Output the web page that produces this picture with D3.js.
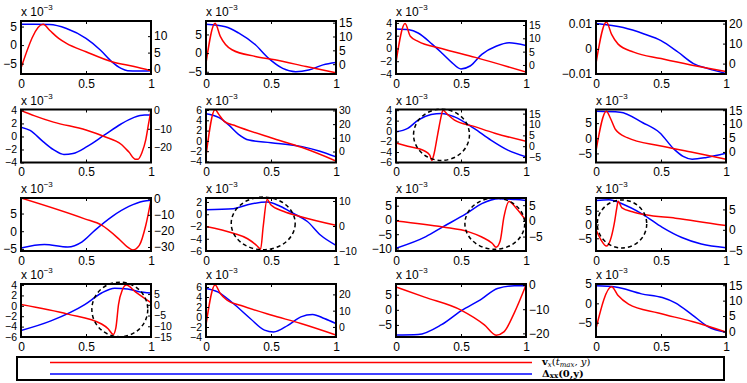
<!DOCTYPE html>
<html>
<head>
<meta charset="utf-8">
<script src="https://cdn.jsdelivr.net/npm/d3@7"></script>
<style>
body { margin: 0; background: #fff; }
svg { display: block; }
text { font-family: "Liberation Sans", Arial, sans-serif; }
</style>
</head>
<body>
<div id="plot"></div>
<script>
// panels are read row by row, 4 per row
// left axis = red curve (x 10^-3, except panel 4), right axis = blue curve
var leftDomains = [
    [-7.8, 6.5], [-5.6, 8.6], [-4, 4.3], [-0.0101, 0.0112],
    [-4, 4.14], [-4.2, 6.1], [-6, 4.13], [-8.0, 9.5],
    [-5.6, 9.4], [-6, 2.65], [-10.9, 7.7], [-9.6, 9.6],
    [-6, 4.2], [-4, 6.6], [-9.0, 8.55], [-8.7, 5.0]
]
var rightDomains = [
    [-1.5, 14.6], [-3.55, 15.6], [-3.4, 16.5], [-5.2, 21.3],
    [-28.4, 0.5], [-8, 30.7], [-7.5, 16.9], [-3.8, 15.25],
    [-32.5, 0.44], [-10, 11.2], [-9.6, 7.3], [-5.2, 7.8],
    [-15, 9.7], [-6.2, 26.4], [-21.5, 0.43], [-1.8, 15.4]
]
var leftTicks = [
    [-5, 0, 5], [-5, 0, 5], [-4, -2, 0, 2, 4], [-0.01, 0, 0.01],
    [-4, -2, 0, 2, 4], [-4, -2, 0, 2, 4, 6], [-6, -4, -2, 0, 2, 4], [-5, 0, 5],
    [-5, 0, 5], [-6, -4, -2, 0, 2], [-10, -5, 0, 5], [-5, 0, 5],
    [-6, -4, -2, 0, 2, 4], [-4, -2, 0, 2, 4, 6], [-5, 0, 5], [-5, 0, 5]
]
var rightTicks = [
    [0, 5, 10], [0, 5, 10, 15], [0, 5, 10, 15], [0, 10, 20],
    [-20, -10, 0], [0, 10, 20, 30], [-5, 0, 5, 10, 15], [0, 5, 10, 15],
    [-30, -20, -10, 0], [-10, 0, 10], [-5, 0, 5], [-5, 0, 5],
    [-15, -10, -5, 0, 5], [0, 10, 20], [-20, -10, 0], [0, 5, 10, 15]
]
var xTicks = [0, 0.5, 1]
var scaleLabel = [true, true, true, false, true, true, true, true,
                  true, true, true, true, true, true, true, true]

// v_x(t_max, y)
var redSeries = [
    [[0,-6.2],[0.17,5.6],[0.22,4.0],[0.29,1.8],[0.35,0.45],[0.5,-1.8],[0.7,-4.5],[0.87,-5.8],[1,-6.9]],
    [[0,-2.7],[0.07,8.0],[0.11,4.5],[0.15,2.3],[0.2,0.9],[0.38,-0.9],[0.53,-1.8],[0.77,-3.6],[1,-5.3]],
    [[0,-2.2],[0.07,3.9],[0.11,1.9],[0.17,1.1],[0.35,0],[0.61,-1.4],[1,-3.7]],
    [[0,-0.0058],[0.08,0.0108],[0.12,0.0058],[0.17,0.0019],[0.29,-0.0013],[0.5,-0.0039],[0.73,-0.0065],[1,-0.0091]],
    [[0,4.0],[0.1,3.2],[0.25,2.2],[0.5,1.0],[0.64,0],[0.77,-1.2],[0.83,-2.4],[0.88,-3.5],[0.9,-3.5],[0.93,-2.5],[0.96,-0.5],[0.98,1.8],[1,4.0]],
    [[0,-2.9],[0.07,6.1],[0.1,5.1],[0.14,3.8],[0.23,2.9],[0.5,0.6],[0.74,-1.3],[1,-3.9]],
    [[0,-2.25],[0.09,-2.9],[0.22,-3.8],[0.26,-4.6],[0.275,-5.6],[0.29,-4.6],[0.32,-0.7],[0.35,3.1],[0.36,4.0],[0.4,3.1],[0.45,2.1],[0.6,0.9],[0.76,-0.4],[1,-1.95]],
    [[0,-4.2],[0.08,8.9],[0.11,6.7],[0.15,2.9],[0.24,0.2],[0.49,-2.5],[0.75,-4.7],[1,-6.9]],
    [[0,9.4],[0.49,3.5],[0.62,1.7],[0.75,-2.1],[0.82,-4.5],[0.86,-5.3],[0.91,-4],[0.96,1.7],[1,8.9]],
    [[0,-2.0],[0.21,-3.1],[0.32,-4],[0.39,-5.1],[0.42,-5.7],[0.44,-2],[0.47,2.4],[0.5,1.5],[0.6,0.45],[0.73,-0.4],[1,-1.8]],
    [[0,-0.4],[0.36,-2.5],[0.56,-4.2],[0.66,-6],[0.74,-8.2],[0.77,-9.6],[0.8,-7.6],[0.83,1],[0.87,6.5],[0.92,4.4],[1,-0.2]],
    [[0,-1.9],[0.04,-5.7],[0.08,-7.8],[0.11,-5.7],[0.14,0.2],[0.16,6],[0.17,8.4],[0.2,6],[0.28,4.6],[0.38,3.5],[0.61,2.3],[1,-0.4]],
    [[0,0.25],[0.36,-1.6],[0.62,-3.5],[0.67,-4.4],[0.71,-5.5],[0.73,-4.2],[0.75,0.25],[0.78,3.1],[0.81,4.0],[0.88,2.7],[1,0.6]],
    [[0,-1.6],[0.07,6.4],[0.11,4.7],[0.16,3.4],[0.27,2.3],[0.5,0.4],[0.73,-1.3],[1,-3.6]],
    [[0,7.6],[0.22,4.2],[0.5,-0.1],[0.68,-5],[0.77,-8.4],[0.83,-7.3],[0.91,-1],[1,8.2]],
    [[0,-6.5],[0.12,4.3],[0.17,2],[0.25,-0.2],[0.48,-2.5],[0.74,-4.7],[1,-7.4]]
]

// Delta_xx(0, y)
var blueSeries = [
    [[0,13.6],[0.1,13.6],[0.22,13.5],[0.35,12.3],[0.5,9.3],[0.61,5.8],[0.7,2.2],[0.77,0.2],[0.82,-0.5],[0.9,-0.6],[1,-0.5]],
    [[0,14.4],[0.15,13.5],[0.25,11.3],[0.38,7.0],[0.48,2.2],[0.59,-1.5],[0.69,-2.7],[0.79,-2.1],[0.9,-0.25],[1,0.6]],
    [[0,13.5],[0.1,13.2],[0.17,12],[0.28,7.7],[0.35,4.6],[0.43,0.9],[0.5,-1.5],[0.57,-0.4],[0.66,4],[0.77,7],[0.87,8.3],[1,7.3]],
    [[0,20],[0.21,18],[0.37,14.8],[0.5,11.5],[0.63,5.8],[0.75,0],[0.86,-2.5],[1,-4.9]],
    [[0,-9.1],[0.07,-10.9],[0.17,-17],[0.25,-21.4],[0.33,-24],[0.4,-23.5],[0.51,-19.6],[0.64,-13.5],[0.77,-7.4],[0.87,-3.8],[0.95,-2.5],[1,-2.5]],
    [[0,27.6],[0.1,24.7],[0.17,19.8],[0.25,12.6],[0.33,8.4],[0.5,6.5],[0.74,3.6],[0.87,0.4],[1,-3.9]],
    [[0,6.6],[0.09,8.2],[0.17,12],[0.27,14.6],[0.35,15.1],[0.45,13.5],[0.6,8.2],[0.73,2.8],[0.86,-1.8],[1,-4.9]],
    [[0,14.6],[0.185,14.3],[0.36,10.5],[0.49,6.9],[0.6,1.0],[0.67,-1.6],[0.74,-2.6],[0.85,-2.0],[1,-0.5]],
    [[0,-30.6],[0.18,-28.5],[0.36,-30],[0.47,-26.8],[0.57,-19.5],[0.7,-11.1],[0.83,-4.8],[0.94,-1.6],[1,-1]],
    [[0,6.5],[0.21,6.9],[0.32,8.5],[0.47,9.6],[0.57,7.9],[0.67,5.1],[0.78,1.8],[0.88,-3.6],[1,-7.7]],
    [[0,-8.7],[0.23,-5],[0.36,-1.9],[0.54,2.3],[0.66,5.5],[0.79,7.1],[0.92,6.8],[1,6.5]],
    [[0,7.2],[0.1,7.4],[0.2,6.4],[0.36,3.8],[0.51,0.6],[0.66,-1.9],[0.81,-3.5],[1,-4.4]],
    [[0,-12],[0.23,-7.5],[0.49,0.1],[0.62,5.5],[0.72,7.7],[0.82,7.4],[0.9,6.2],[1,5.5]],
    [[0,23.7],[0.09,21.6],[0.21,14.4],[0.34,5.2],[0.45,-2],[0.52,-3.1],[0.63,1],[0.73,6.2],[0.82,7.7],[0.91,5.2],[1,2.1]],
    [[0,-20.7],[0.17,-20.5],[0.35,-16.4],[0.5,-10.7],[0.66,-5.7],[0.78,-1.4],[0.91,-0.3],[1,-0.3]],
    [[0,14.8],[0.15,14.4],[0.35,12.2],[0.51,11],[0.61,9.3],[0.74,5.4],[0.86,1.6],[1,-0.3]]
]

// dashed circles: panel, centre x, centre (left units), radius x, radius (left units)
var circles = [
    [6, 0.35, -0.7, 0.215, 4.9],
    [9, 0.44, -1.5, 0.246, 4.3],
    [10, 0.76, -1.3, 0.23, 9.0],
    [11, 0.2, 0.2, 0.19, 8.7],
    [12, 0.76, -0.7, 0.215, 5.25]
]

var W = 747, H = 383
var colX = [21, 206, 396, 596]
var rowY = [21, 109.5, 198, 284]
var pw = 130, ph = 53

var svg = d3.select("#plot").append("svg")
    .attr("width", W)
    .attr("height", H)

function fmt(d) {
    return (d < 0 ? "\u2212" : "") + Math.abs(d)
}

function styleAxis(size) {
    return function (a) {
        a.select(".domain").remove()
        a.selectAll("line").attr("stroke", "#000").attr("stroke-width", 1)
        a.selectAll("text").style("font-size", size).attr("fill", "#000")
    }
}

redSeries.forEach(function (red, i) {
    var px = colX[i % 4], py = rowY[Math.floor(i / 4)]
    var g = svg.append("g").attr("transform", "translate(" + px + "," + py + ")")

    var x = d3.scaleLinear().domain([0, 1]).range([0, pw])
    var yl = d3.scaleLinear().domain(leftDomains[i]).range([ph, 0])
    var yr = d3.scaleLinear().domain(rightDomains[i]).range([ph, 0])

    g.append("clipPath").attr("id", "clip" + i)
        .append("rect").attr("width", pw).attr("height", ph)

    var plot = g.append("g").attr("clip-path", "url(#clip" + i + ")")

    plot.append("path")
        .datum(blueSeries[i])
        .attr("fill", "none")
        .attr("stroke", "#0000ff")
        .attr("stroke-width", 1.5)
        .attr("d", d3.line().curve(d3.curveMonotoneX)
            .x(function (d) { return x(d[0]) })
            .y(function (d) { return yr(d[1]) }))

    plot.append("path")
        .datum(red)
        .attr("fill", "none")
        .attr("stroke", "#ff0000")
        .attr("stroke-width", 1.5)
        .attr("d", d3.line().curve(d3.curveMonotoneX)
            .x(function (d) { return x(d[0]) })
            .y(function (d) { return yl(d[1]) }))

    circles.filter(function (c) { return c[0] == i }).forEach(function (c) {
        g.append("ellipse")
            .attr("cx", x(c[1]))
            .attr("cy", yl(c[2]))
            .attr("rx", x(c[3]) - x(0))
            .attr("ry", yl(0) - yl(c[4]))
            .attr("fill", "none")
            .attr("stroke", "#000")
            .attr("stroke-width", 1.5)
            .attr("stroke-dasharray", "4,3")
    })

    // axes, ticks pointing inward
    var crowded = Math.max(leftTicks[i].length, rightTicks[i].length) > 4
    var ySize = crowded ? "10.5px" : "12px"
    g.append("g")
        .attr("transform", "translate(0," + ph + ")")
        .call(d3.axisBottom(x).tickValues(xTicks).tickSizeInner(-3).tickSizeOuter(0).tickPadding(5).tickFormat(fmt))
        .call(styleAxis("12px"))
    g.append("g")
        .call(d3.axisTop(x).tickValues(xTicks).tickSizeInner(-3).tickSizeOuter(0).tickFormat(""))
        .call(styleAxis("12px"))
    g.append("g")
        .call(d3.axisLeft(yl).tickValues(leftTicks[i]).tickSizeInner(-3).tickSizeOuter(0).tickPadding(4)
            .tickFormat(function (d) { return fmt(+d.toFixed(4)) }))
        .call(styleAxis(ySize))
    g.append("g")
        .attr("transform", "translate(" + pw + ",0)")
        .call(d3.axisRight(yr).tickValues(rightTicks[i]).tickSizeInner(-3).tickSizeOuter(0).tickPadding(3).tickFormat(fmt))
        .call(styleAxis(ySize))

    g.append("rect")
        .attr("width", pw)
        .attr("height", ph)
        .attr("fill", "none")
        .attr("stroke", "#000")
        .attr("stroke-width", 2)

    if (scaleLabel[i]) {
        var t = g.append("text")
            .attr("x", 0)
            .attr("y", -5)
            .style("font-size", "12px")
        t.append("tspan").text("x 10")
        t.append("tspan").attr("dy", -6).style("font-size", "8px").text("\u22123")
    }
})

// legend
var lg = svg.append("g")
lg.append("rect")
    .attr("x", 17).attr("y", 357)
    .attr("width", 707).attr("height", 23)
    .attr("fill", "#fff")
    .attr("stroke", "#000")
    .attr("stroke-width", 2)
lg.append("line")
    .attr("x1", 50).attr("x2", 532).attr("y1", 362.5).attr("y2", 362.5)
    .attr("stroke", "#ff0000").attr("stroke-width", 1.5)
lg.append("line")
    .attr("x1", 50).attr("x2", 532).attr("y1", 374).attr("y2", 374)
    .attr("stroke", "#0000ff").attr("stroke-width", 1.5)

var t1 = lg.append("text").attr("x", 542).attr("y", 365)
    .style("font-family", "'DejaVu Serif', serif").style("font-size", "10px")
t1.append("tspan").style("font-weight", "bold").text("v")
t1.append("tspan").attr("dy", 1.5).style("font-size", "7px").style("font-style", "italic").text("x")
t1.append("tspan").attr("dy", -1.5).text("(")
t1.append("tspan").style("font-style", "italic").text("t")
t1.append("tspan").attr("dy", 1.5).style("font-size", "7px").style("font-style", "italic").text("max")
t1.append("tspan").attr("dy", -1.5).style("font-style", "italic").text(", y")
t1.append("tspan").text(")")

var t2 = lg.append("text").attr("x", 542).attr("y", 376.5)
    .style("font-family", "'DejaVu Serif', serif").style("font-size", "10px").style("font-weight", "bold")
t2.append("tspan").text("\u0394")
t2.append("tspan").attr("dy", 1.5).style("font-size", "7px").text("xx")
t2.append("tspan").attr("dy", -1.5).text("(0,y)")
</script>
</body>
</html>
